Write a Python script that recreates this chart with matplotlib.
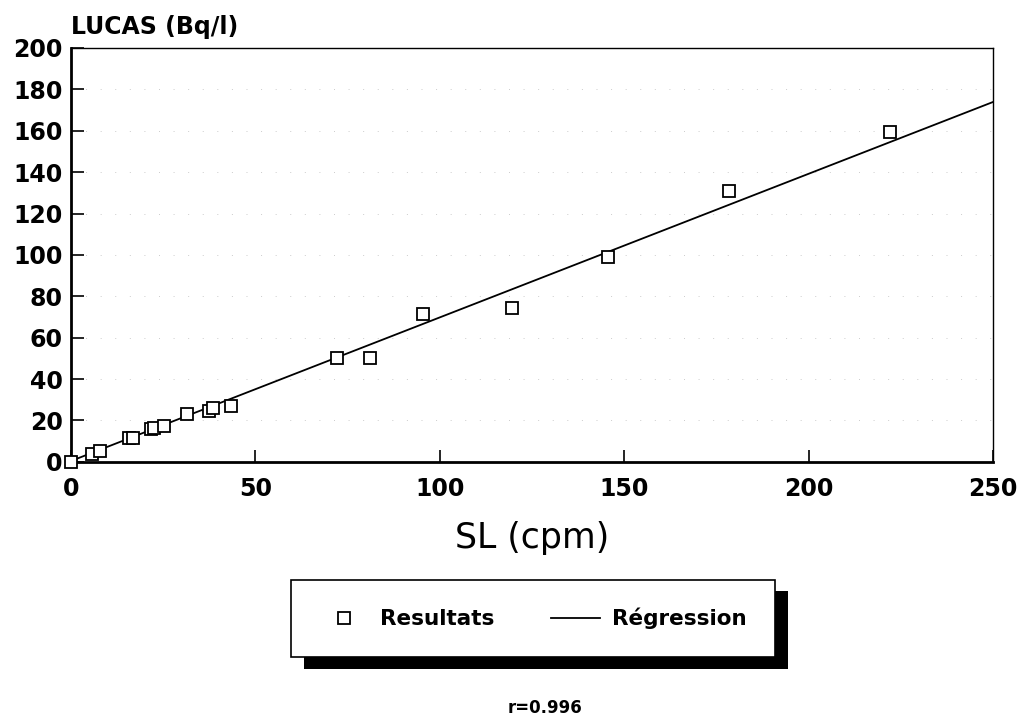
import numpy as np
import matplotlib
matplotlib.use("Agg")
import matplotlib.pyplot as plt
from matplotlib.patches import Rectangle

# data
sl_cpm = [0, 5.7, 7.9, 15.6, 16.9, 21.8, 22.6, 25.2, 31.5, 37.4, 38.5, 43.4,
          72.1, 81.1, 95.4, 119.6, 145.6, 178.4, 222.1]
lucas_bq = [0, 3.9, 5.3, 11.5, 11.3, 15.8, 16.3, 17.1, 23.2, 24.4, 25.9, 26.9,
            50.2, 50.2, 71.5, 74.4, 99.0, 130.9, 159.4]
reg_slope = 0.694
reg_intercept = 0.4
reg_x = [0, 250]
xticks = [0, 50, 100, 150, 200, 250]
yticks = [0, 20, 40, 60, 80, 100, 120, 140, 160, 180, 200]

plt.rcParams['font.family'] = ['DejaVu Sans']

fig = plt.figure(figsize=(10.23, 7.16), dpi=100)
ax = fig.add_axes([0.0694, 0.355, 0.9013, 0.578])

reg_y = [reg_slope * v + reg_intercept for v in reg_x]
ax.plot(reg_x, reg_y, color='black', lw=1.3, label='Régression', zorder=2)
ax.plot(sl_cpm, lucas_bq, ls='none', marker='s', ms=9, mfc='white',
        mec='black', mew=1.3, label='Resultats', zorder=3, clip_on=False)

ax.set_xlim(0, 250)
ax.set_ylim(0, 200)
ax.set_xticks(xticks)
ax.set_yticks(yticks)
ax.tick_params(direction='in', length=9, width=1.2, labelsize=17)
for lab in ax.get_xticklabels() + ax.get_yticklabels():
    lab.set_fontweight('bold')
ax.tick_params(axis='x', pad=11)
ax.tick_params(axis='y', pad=6)
ax.yaxis.grid(True, color='#cccccc', ls=(0, (1, 14)), lw=0.7)
ax.spines['left'].set_linewidth(2)
ax.spines['bottom'].set_linewidth(2)
ax.spines['top'].set_linewidth(1)
ax.spines['right'].set_linewidth(1)

ax.set_xlabel('SL (cpm)', fontsize=25, labelpad=14)
fig.text(0.069, 0.962, 'LUCAS (Bq/l)', fontsize=17, fontweight='bold',
         ha='left', va='center')

h, l = ax.get_legend_handles_labels()
leg = fig.legend(h[::-1], l[::-1], ncol=2, loc='center',
                 bbox_to_anchor=(0.521, 0.136),
                 frameon=True, fancybox=False, edgecolor='black',
                 facecolor='white', framealpha=1,
                 handlelength=2.3, columnspacing=2.6, handletextpad=0.55,
                 borderpad=1.3, prop={'weight': 'bold', 'size': 15.5})
leg.get_frame().set_linewidth(1.2)
leg.set_zorder(5)

fig.canvas.draw()
bb = leg.get_window_extent().transformed(fig.transFigure.inverted())
fig.patches.append(Rectangle((bb.x0 + 0.013, bb.y0 - 0.016), bb.width, bb.height,
                             transform=fig.transFigure, facecolor='black',
                             edgecolor='none', zorder=1))

fig.text(0.533, 0.011, 'r=0.996', fontsize=12, fontweight='bold',
         ha='center', va='center')

fig.savefig('out.png', dpi=100, facecolor='white')
